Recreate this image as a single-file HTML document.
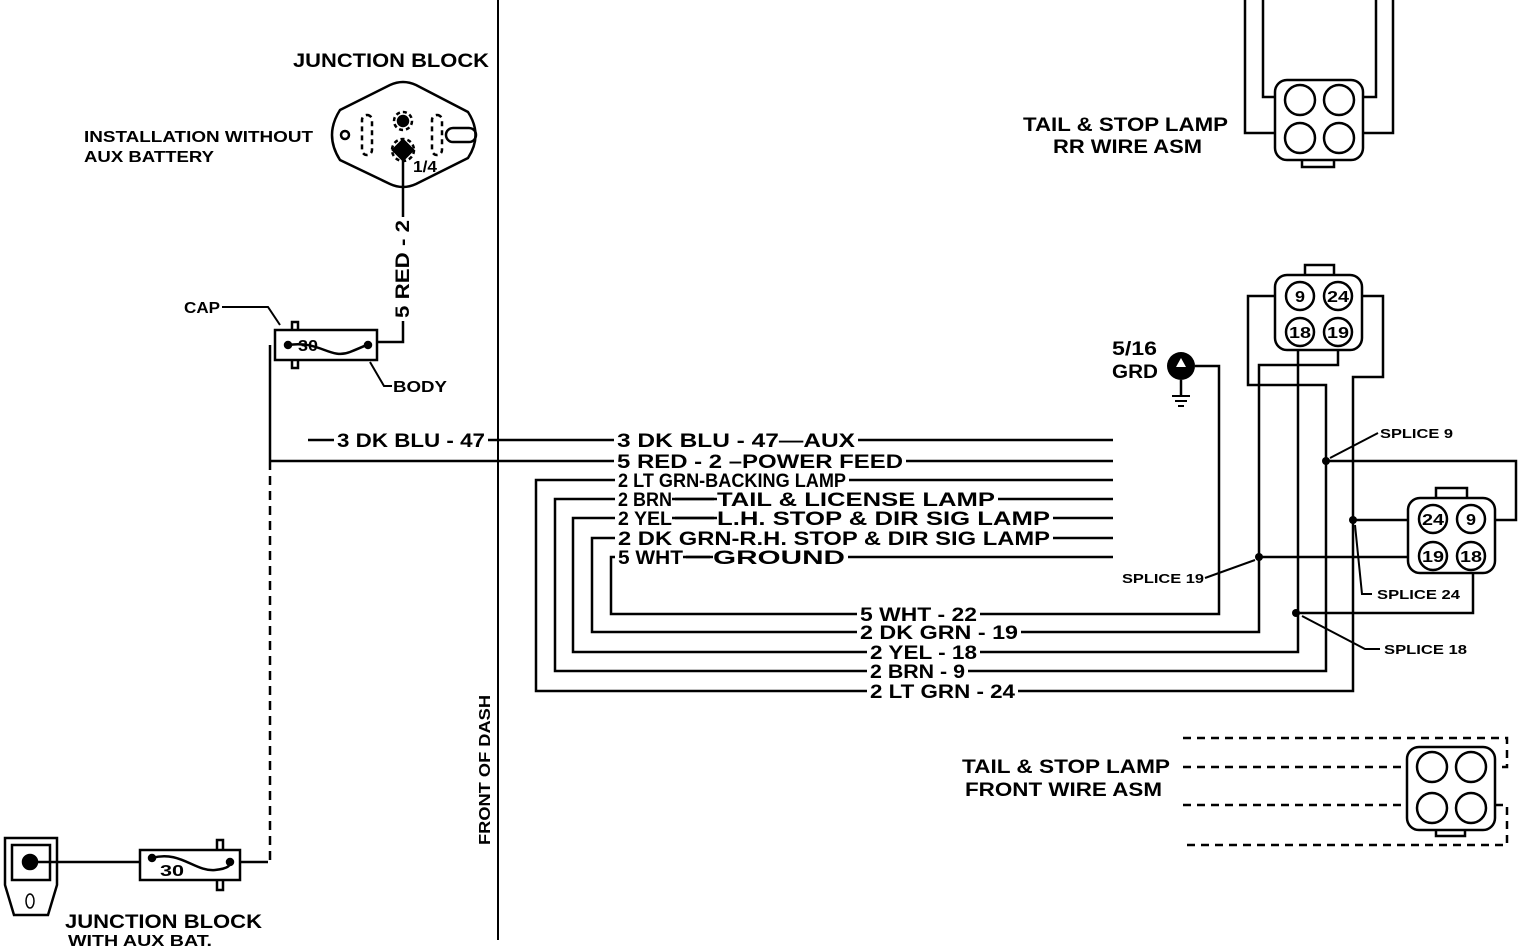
<!DOCTYPE html>
<html><head><meta charset="utf-8"><style>
html,body{margin:0;padding:0;background:#fff}
svg{display:block}
text{font-family:"Liberation Sans",sans-serif;font-weight:bold;fill:#000}
</style></head><body>
<svg width="1536" height="948" viewBox="0 0 1536 948" xmlns="http://www.w3.org/2000/svg">
<g fill="none" stroke="#000" stroke-width="2.5">
<line x1="498" y1="0" x2="498" y2="940" stroke-width="2"/>
<path d="M340,110 L390,85 Q403,79 416,85 L468,112 Q483,135 468,158 L416,184 Q403,190 390,184 L340,160 Q324,135 340,110Z"/>
<circle cx="345" cy="135" r="4"/>
<rect x="362" y="115" width="10" height="40" rx="5" stroke-dasharray="5 4"/>
<rect x="432" y="115" width="10" height="40" rx="5" stroke-dasharray="5 4"/>
<rect x="446" y="128" width="30" height="14" rx="7"/>
<circle cx="403" cy="121" r="9" stroke-dasharray="4 3"/>
<circle cx="403" cy="121" r="5" fill="#000"/>
<path d="M403,140 L413,150 L403,160 L393,150Z" fill="#000"/>
<circle cx="403" cy="150" r="11" stroke-dasharray="4 3"/>
<polyline points="403,160 403,342 376,342"/>
<rect x="275" y="330" width="102" height="30"/>
<path d="M288,345 C320,340 330,360 350,352 S365,345 368,345"/>
<path d="M292,330 v-8 h6 v8 M292,360 v8 h6 v-8"/>
<circle cx="288" cy="345" r="3" fill="#000"/><circle cx="368" cy="345" r="3" fill="#000"/>
<polyline points="270,345 270,461" />
<line x1="270" y1="461" x2="270" y2="862" stroke-dasharray="9 6"/>
<polyline points="222,307 268,307 280,325" stroke-width="2"/>
<polyline points="370,362 384,386 392,386" stroke-width="2"/>
<line x1="308" y1="440" x2="1113" y2="440"/>
<line x1="270" y1="461" x2="1113" y2="461"/>
<polyline points="1113,480 536,480 536,691 1353,691 1353,377 1383,377 1383,296 1362,296"/>
<polyline points="1113,499 555,499 555,671 1326,671 1326,385 1248,385 1248,296 1275,296"/>
<polyline points="1113,518 573,518 573,652 1298,652 1298,350"/>
<polyline points="1113,538 592,538 592,632 1259,632 1259,365 1338,365 1338,350"/>
<polyline points="1113,557 611,557 611,614 1219,614 1219,366 1195,366"/>
<polyline points="1326,461 1516,461 1516,520 1495,520"/>
<line x1="1353" y1="520" x2="1408" y2="520"/>
<line x1="1259" y1="557" x2="1408" y2="557"/>
<polyline points="1296,613 1473,613 1473,573"/>
<line x1="1181" y1="380" x2="1181" y2="396"/>
<line x1="1172" y1="396" x2="1190" y2="396" stroke-width="2"/>
<line x1="1175" y1="401" x2="1187" y2="401" stroke-width="2"/>
<line x1="1178" y1="406" x2="1184" y2="406" stroke-width="2"/>
<path d="M1305,275 v-10 h29 v10"/>
<rect x="1275" y="275" width="87" height="75" rx="12"/>
<circle cx="1300" cy="296" r="14"/><circle cx="1338" cy="296" r="14"/>
<circle cx="1300" cy="332" r="14"/><circle cx="1338" cy="332" r="14"/>
<path d="M1436,498 v-10 h31 v10"/>
<rect x="1408" y="498" width="87" height="75" rx="12"/>
<circle cx="1433" cy="519" r="14"/><circle cx="1471" cy="519" r="14"/>
<circle cx="1433" cy="556" r="14"/><circle cx="1471" cy="556" r="14"/>
<rect x="1275" y="80" width="88" height="80" rx="12"/>
<path d="M1302,160 v7 h32 v-7"/>
<circle cx="1300" cy="100" r="15"/><circle cx="1339" cy="100" r="15"/>
<circle cx="1300" cy="138" r="15"/><circle cx="1339" cy="138" r="15"/>
<polyline points="1245,0 1245,133 1275,133"/>
<polyline points="1263,0 1263,97 1275,97"/>
<polyline points="1376,0 1376,97 1363,97"/>
<polyline points="1393,0 1393,133 1363,133"/>
<rect x="1407" y="747" width="88" height="83" rx="12"/>
<path d="M1436,830 v6 h29 v-6"/>
<circle cx="1432" cy="767" r="15"/><circle cx="1471" cy="767" r="15"/>
<circle cx="1432" cy="808" r="15"/><circle cx="1471" cy="808" r="15"/>
<g stroke-dasharray="8 6">
<polyline points="1183,738 1507,738 1507,767 1495,767"/>
<line x1="1183" y1="767" x2="1407" y2="767"/>
<line x1="1183" y1="805" x2="1407" y2="805"/>
<polyline points="1495,805 1507,805 1507,845 1183,845"/>
</g>
<path d="M5,838 H57 V885 L48,915 H14 L5,885Z"/>
<rect x="12" y="845" width="38" height="35"/>
<circle cx="30" cy="862" r="7" fill="#000"/>
<ellipse cx="30" cy="901" rx="4" ry="7" stroke-width="1.5"/>
<line x1="37" y1="862" x2="140" y2="862"/>
<rect x="140" y="850" width="100" height="30"/>
<path d="M152,858 C180,850 195,872 215,870 S228,862 230,862"/>
<path d="M217,850 v-10 h6 v10 M217,880 v10 h6 v-10"/>
<circle cx="152" cy="858" r="3" fill="#000"/><circle cx="230" cy="862" r="3" fill="#000"/>
<line x1="240" y1="862" x2="268" y2="862"/>
<g stroke-width="2">
<line x1="1378" y1="433" x2="1330" y2="458"/>
<polyline points="1205,578 1255,560"/>
<polyline points="1372,594 1362,594 1355,525"/>
<polyline points="1380,649 1365,649 1302,616"/>
</g>
</g>
<g fill="#000">
<circle cx="1181" cy="366" r="14"/>
<circle cx="1326" cy="461" r="4"/><circle cx="1353" cy="520" r="4"/>
<circle cx="1259" cy="557" r="4"/><circle cx="1296" cy="613" r="4"/>
</g>
<path d="M1181,358 l5,9 h-10z" fill="#fff"/>
<!-- white backgrounds behind wire labels -->
<g fill="#fff">
<rect x="334" y="431" width="154" height="18"/>
<rect x="614" y="431" width="244" height="18"/>
<rect x="614" y="452" width="292" height="18"/>
<rect x="615" y="471" width="234" height="18"/>
<rect x="615" y="490" width="60" height="18"/>
<rect x="714" y="490" width="284" height="18"/>
<rect x="615" y="509" width="60" height="18"/>
<rect x="714" y="509" width="339" height="18"/>
<rect x="615" y="529" width="438" height="18"/>
<rect x="615" y="548" width="71" height="18"/>
<rect x="710" y="548" width="138" height="18"/>
<rect x="857" y="605" width="123" height="18"/>
<rect x="857" y="623" width="164" height="18"/>
<rect x="867" y="643" width="113" height="18"/>
<rect x="867" y="662" width="101" height="18"/>
<rect x="867" y="682" width="151" height="18"/>
<rect x="393" y="217" width="18" height="104"/>
</g>
<line x1="672" y1="499" x2="717" y2="499" stroke="#000" stroke-width="2.5"/>
<line x1="672" y1="518" x2="717" y2="518" stroke="#000" stroke-width="2.5"/>
<line x1="683" y1="557" x2="713" y2="557" stroke="#000" stroke-width="2.5"/>
<g font-size="19">
<text x="293" y="67" textLength="196" lengthAdjust="spacingAndGlyphs">JUNCTION BLOCK</text>
<text x="1023" y="131" textLength="205" lengthAdjust="spacingAndGlyphs">TAIL &amp; STOP LAMP</text>
<text x="1053" y="153" textLength="149" lengthAdjust="spacingAndGlyphs">RR WIRE ASM</text>
<text x="1112" y="355" textLength="45" lengthAdjust="spacingAndGlyphs">5/16</text>
<text x="1112" y="378" textLength="46" lengthAdjust="spacingAndGlyphs">GRD</text>
<text x="962" y="773" textLength="208" lengthAdjust="spacingAndGlyphs">TAIL &amp; STOP LAMP</text>
<text x="965" y="796" textLength="197" lengthAdjust="spacingAndGlyphs">FRONT WIRE ASM</text>
<text x="65" y="928" textLength="197" lengthAdjust="spacingAndGlyphs">JUNCTION BLOCK</text>
<text x="337" y="447" textLength="148" lengthAdjust="spacingAndGlyphs">3 DK BLU - 47</text>
<text x="617" y="447" textLength="238" lengthAdjust="spacingAndGlyphs">3 DK BLU - 47—AUX</text>
<text x="617" y="468" textLength="286" lengthAdjust="spacingAndGlyphs">5 RED - 2 –POWER FEED</text>
<text x="618" y="487" textLength="228" lengthAdjust="spacingAndGlyphs">2 LT GRN-BACKING LAMP</text>
<text x="618" y="506" textLength="54" lengthAdjust="spacingAndGlyphs">2 BRN</text>
<text x="717" y="506" textLength="278" lengthAdjust="spacingAndGlyphs">TAIL &amp; LICENSE LAMP</text>
<text x="618" y="525" textLength="54" lengthAdjust="spacingAndGlyphs">2 YEL</text>
<text x="717" y="525" textLength="333" lengthAdjust="spacingAndGlyphs">L.H. STOP &amp; DIR SIG LAMP</text>
<text x="618" y="545" textLength="432" lengthAdjust="spacingAndGlyphs">2 DK GRN-R.H. STOP &amp; DIR SIG LAMP</text>
<text x="618" y="564" textLength="65" lengthAdjust="spacingAndGlyphs">5 WHT</text>
<text x="713" y="564" textLength="132" lengthAdjust="spacingAndGlyphs">GROUND</text>
<text x="860" y="621" textLength="117" lengthAdjust="spacingAndGlyphs">5 WHT - 22</text>
<text x="860" y="639" textLength="158" lengthAdjust="spacingAndGlyphs">2 DK GRN - 19</text>
<text x="870" y="659" textLength="107" lengthAdjust="spacingAndGlyphs">2 YEL - 18</text>
<text x="870" y="678" textLength="95" lengthAdjust="spacingAndGlyphs">2 BRN - 9</text>
<text x="870" y="698" textLength="145" lengthAdjust="spacingAndGlyphs">2 LT GRN - 24</text>
<text transform="translate(409,318) rotate(-90)" textLength="98" lengthAdjust="spacingAndGlyphs">5 RED - 2</text>
</g>
<g font-size="16">
<text x="84" y="142" textLength="229" lengthAdjust="spacingAndGlyphs">INSTALLATION WITHOUT</text>
<text x="84" y="162" textLength="130" lengthAdjust="spacingAndGlyphs">AUX BATTERY</text>
<text x="68" y="946" textLength="144" lengthAdjust="spacingAndGlyphs">WITH AUX BAT.</text>
<text x="184" y="313" textLength="36" lengthAdjust="spacingAndGlyphs">CAP</text>
<text x="393" y="392" textLength="54" lengthAdjust="spacingAndGlyphs">BODY</text>
<text x="413" y="172" textLength="24" lengthAdjust="spacingAndGlyphs">1/4</text>
<text x="298" y="351" textLength="20" lengthAdjust="spacingAndGlyphs">30</text>
<text x="160" y="876" textLength="24" lengthAdjust="spacingAndGlyphs">30</text>
<text transform="translate(490,845) rotate(-90)" textLength="150" lengthAdjust="spacingAndGlyphs">FRONT OF DASH</text>
<text x="1295" y="302" textLength="10" lengthAdjust="spacingAndGlyphs">9</text>
<text x="1327" y="302" textLength="22" lengthAdjust="spacingAndGlyphs">24</text>
<text x="1289" y="338" textLength="22" lengthAdjust="spacingAndGlyphs">18</text>
<text x="1327" y="338" textLength="22" lengthAdjust="spacingAndGlyphs">19</text>
<text x="1422" y="525" textLength="22" lengthAdjust="spacingAndGlyphs">24</text>
<text x="1466" y="525" textLength="10" lengthAdjust="spacingAndGlyphs">9</text>
<text x="1422" y="562" textLength="22" lengthAdjust="spacingAndGlyphs">19</text>
<text x="1460" y="562" textLength="22" lengthAdjust="spacingAndGlyphs">18</text>
</g>
<g font-size="13">
<text x="1380" y="438" textLength="73" lengthAdjust="spacingAndGlyphs">SPLICE 9</text>
<text x="1122" y="583" textLength="82" lengthAdjust="spacingAndGlyphs">SPLICE 19</text>
<text x="1377" y="599" textLength="83" lengthAdjust="spacingAndGlyphs">SPLICE 24</text>
<text x="1384" y="654" textLength="83" lengthAdjust="spacingAndGlyphs">SPLICE 18</text>
</g>
</svg>
</body></html>
